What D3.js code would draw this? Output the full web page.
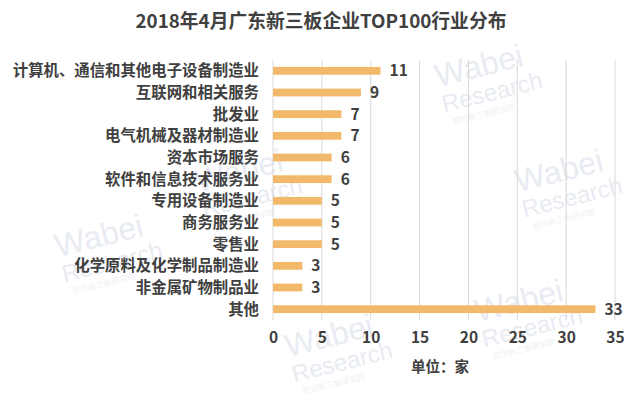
<!DOCTYPE html>
<html>
<head>
<meta charset="utf-8">
<script src="https://cdn.jsdelivr.net/npm/d3@7/dist/d3.min.js"></script>
<style>
  html, body { margin: 0; padding: 0; background: #fff; }
  svg { display: block; font-family: "Noto Sans CJK SC", "Noto Sans", sans-serif; }
</style>
</head>
<body>
<svg id="chart" width="640" height="399"></svg>
<script>
// chart data
const title = '2018年4月广东新三板企业TOP100行业分布';
const categories = [
  '计算机、通信和其他电子设备制造业',
  '互联网和相关服务',
  '批发业',
  '电气机械及器材制造业',
  '资本市场服务',
  '软件和信息技术服务业',
  '专用设备制造业',
  '商务服务业',
  '零售业',
  '化学原料及化学制品制造业',
  '非金属矿物制品业',
  '其他'
];
const values = [11, 9, 7, 7, 6, 6, 5, 5, 5, 3, 3, 33];
const xTicks = [0, 5, 10, 15, 20, 25, 30, 35];
const unitLabel = '单位：家';

// faint background watermark spots (kept inside the frame)
const marks = [
  { x: 440, y: 95 }, { x: 520, y: 200 },
  { x: 60, y: 265 }, { x: 200, y: 200 },
  { x: 480, y: 330 }, { x: 290, y: 365 }
];

const svg = d3.select('#chart');
const textColor = '#404040';
const barColor = '#F2B96A';

// watermark layer
const wm = svg.append('g').attr('class', 'watermark');
marks.forEach(m => {
  const g = wm.append('g').attr('transform', `translate(${m.x},${m.y}) rotate(-14)`);
  g.append('text').attr('x', 0).attr('y', -8).attr('font-family', 'Liberation Sans, sans-serif')
    .attr('font-size', 32).attr('fill', '#e8ecf2').text('Wabei');
  g.append('text').attr('x', 0).attr('y', 18).attr('font-family', 'Liberation Sans, sans-serif')
    .attr('font-size', 24).attr('fill', '#e8ecf2').text('Research');
  g.append('text').attr('x', 6).attr('y', 32)
    .attr('font-size', 8).attr('fill', '#eef0f5').text('挖贝新三板研究院');
});

const x = d3.scaleLinear().domain([0, 35]).range([273, 615]);
const y = d3.scaleBand().domain(categories).range([60, 320]).paddingInner(0.64).paddingOuter(0.32);

// grid lines
svg.append('g')
  .selectAll('line')
  .data(xTicks)
  .join('line')
  .attr('x1', d => x(d)).attr('x2', d => x(d))
  .attr('y1', 60).attr('y2', 320)
  .attr('stroke', '#d9d9d9').attr('stroke-width', 1);

// bars
svg.append('g')
  .selectAll('rect')
  .data(values)
  .join('rect')
  .attr('x', x(0))
  .attr('y', (d, i) => y(categories[i]))
  .attr('width', d => x(d) - x(0))
  .attr('height', y.bandwidth())
  .attr('fill', barColor);

// value labels
svg.append('g')
  .selectAll('text')
  .data(values)
  .join('text')
  .attr('x', d => x(d) + 9)
  .attr('y', (d, i) => y(categories[i]) + y.bandwidth() / 2)
  .attr('dy', '0.36em')
  .attr('font-size', 15.5).attr('font-weight', 'bold').attr('fill', textColor)
  .text(d => d);

// category labels
svg.append('g')
  .selectAll('text')
  .data(categories)
  .join('text')
  .attr('x', 259)
  .attr('y', d => y(d) + y.bandwidth() / 2)
  .attr('dy', '0.36em')
  .attr('text-anchor', 'end')
  .attr('font-size', 15.4).attr('font-weight', 'bold').attr('fill', textColor)
  .text(d => d);

// x axis labels
const xAxis = svg.append('g')
  .attr('transform', 'translate(0,332)')
  .call(d3.axisBottom(x).tickValues(xTicks).tickSize(0).tickPadding(0));
xAxis.select('.domain').remove();
xAxis.selectAll('text')
  .attr('font-size', 15.5).attr('font-weight', 'bold').attr('fill', textColor)
  .attr('font-family', '"Noto Sans CJK SC", sans-serif');

// unit label
svg.append('text')
  .attr('x', 440).attr('y', 372)
  .attr('text-anchor', 'middle')
  .attr('font-size', 14.5).attr('font-weight', 'bold').attr('fill', textColor)
  .text(unitLabel);

// title
svg.append('text')
  .attr('x', 321).attr('y', 28)
  .attr('text-anchor', 'middle')
  .attr('font-size', 18.8).attr('font-weight', 'bold').attr('fill', textColor)
  .text(title);
</script>
</body>
</html>
